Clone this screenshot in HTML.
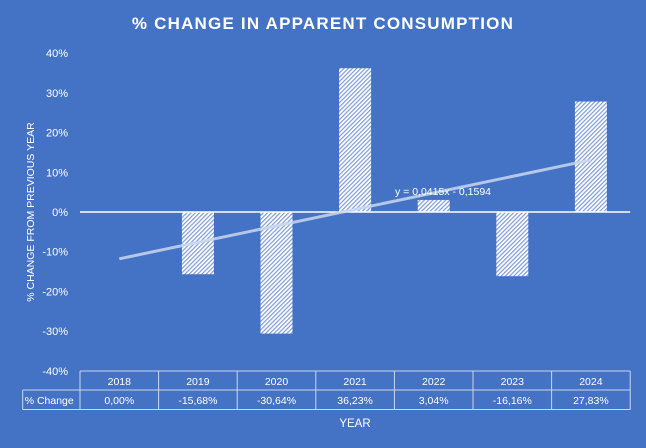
<!DOCTYPE html>
<html><head><meta charset="utf-8"><style>
html,body{margin:0;padding:0;background:#4472C4;}
svg{display:block;font-family:"Liberation Sans",sans-serif;}
</style></head><body>
<svg width="646" height="448" viewBox="0 0 646 448">
<defs>
<pattern id="hatch" patternUnits="userSpaceOnUse" width="3" height="3" patternTransform="rotate(45)">
<rect width="3" height="3" fill="#ffffff"/>
<rect width="1.2" height="3" fill="#7f9cd6"/>
</pattern>
</defs>
<rect width="646" height="448" fill="#4472C4"/>
<text x="323" y="29" text-anchor="middle" fill="#fff" font-size="17" font-weight="bold" letter-spacing="1.2">% CHANGE IN APPARENT CONSUMPTION</text>
<text transform="translate(34,212) rotate(-90)" text-anchor="middle" fill="#fff" font-size="10.5">% CHANGE FROM PREVIOUS YEAR</text>
<text x="355" y="427" text-anchor="middle" fill="#fff" font-size="11.5">YEAR</text>
<g id="yticks"></g>
<g id="bars"></g>
<g id="table"></g>
<g id="trend"></g>
</svg>
<script>
const categories=["2018","2019","2020","2021","2022","2023","2024"];
const values=[0.00,-15.68,-30.64,36.23,3.04,-16.16,27.83];
const labels=["0,00%","-15,68%","-30,64%","36,23%","3,04%","-16,16%","27,83%"];
const yTicks=[40,30,20,10,0,-10,-20,-30,-40];
const trendSlope=0.0415, trendIntercept=-0.1594;
const NS="http://www.w3.org/2000/svg";
const X0=80,CW=78.6,Y0=212,PX=3.97;
const xc=i=>X0+CW*(i+0.5);
const y=v=>Y0-v*PX;
function mk(t,a,p){const e=document.createElementNS(NS,t);for(const k in a)e.setAttribute(k,a[k]);p.appendChild(e);return e;}
const yt=document.getElementById('yticks');
yTicks.forEach(v=>{const t=mk('text',{x:68,y:y(v)+4,'text-anchor':'end',fill:'#fff','font-size':'11'},yt);t.textContent=v+'%';

});
const bg=document.getElementById('bars');
values.forEach((v,i)=>{const r=mk('rect',{x:xc(i)-16,y:Math.min(y(v),Y0),width:32,height:Math.abs(y(v)-Y0),fill:'url(#hatch)'},bg);

});
const zl=mk('line',{x1:X0,x2:X0+CW*7,y1:Y0,y2:Y0,stroke:'#fff','stroke-width':1.5},bg);


const tg=document.getElementById('trend');
const tv=x=>(trendSlope*x+trendIntercept)*100;
const tl=mk('line',{x1:xc(0),y1:y(tv(1)),x2:xc(6),y2:y(tv(7)),stroke:'#c9d7f0','stroke-width':3,'stroke-opacity':0.85},tg);


const te=mk('text',{x:443,y:195,'text-anchor':'middle',fill:'#fff','font-size':'10.5'},tg);te.textContent='y = 0,0415x - 0,1594';


const tb=document.getElementById('table');
const L=22.7,T1=371,T2=390,T3=409.5,R=X0+CW*7,st={stroke:'#c9d7f0','stroke-width':1,fill:'none'};
[[X0,T1,R,T1],[L,T2,R,T2],[L,T3,R,T3],[L,T2,L,T3]].forEach(c=>mk('line',Object.assign({x1:c[0],y1:c[1],x2:c[2],y2:c[3]},st),tb));
for(let i=0;i<=7;i++)mk('line',Object.assign({x1:X0+CW*i,y1:T1,x2:X0+CW*i,y2:T3},st),tb);
const lc=mk('text',{x:L+2,y:404,fill:'#fff','font-size':'10.5'},tb);lc.textContent='% Change';


categories.forEach((c,i)=>{const a=mk('text',{x:xc(i),y:385,'text-anchor':'middle',fill:'#fff','font-size':'10.5'},tb);a.textContent=c;


const b=mk('text',{x:xc(i),y:404,'text-anchor':'middle',fill:'#fff','font-size':'10.5'},tb);b.textContent=labels[i];

});
</script>
</body></html>
